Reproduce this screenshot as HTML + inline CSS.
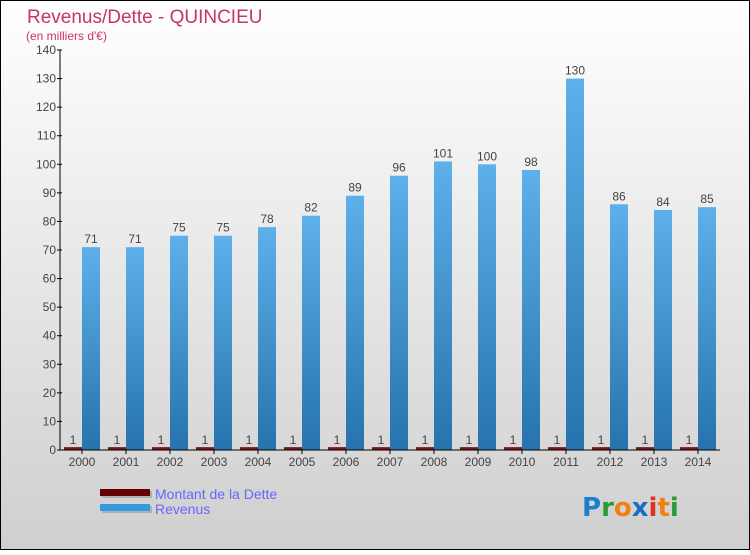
<!DOCTYPE html>
<html><head><meta charset="utf-8"><style>
html,body{margin:0;padding:0}
body{width:750px;height:550px;overflow:hidden;font-family:"Liberation Sans",sans-serif}
</style></head><body>
<svg width="750" height="550" xmlns="http://www.w3.org/2000/svg">
<defs>
<linearGradient id="bg" x1="0" y1="0" x2="0" y2="1"><stop offset="0" stop-color="#ffffff"/><stop offset="1" stop-color="#cfcfcf"/></linearGradient>
<linearGradient id="rev" x1="0" y1="0" x2="0" y2="1"><stop offset="0" stop-color="#5eb0ea"/><stop offset="1" stop-color="#2673ad"/></linearGradient>
</defs>
<rect x="0.5" y="0.5" width="749" height="549" fill="url(#bg)" stroke="#000"/>
<text x="27" y="23" font-size="19" fill="#c8336a">Revenus/Dette - QUINCIEU</text>
<text x="26" y="40" font-size="12" fill="#c8336a">(en milliers d'€)</text>
<g id="plot"></g>
<g>
<rect x="102" y="491" width="50" height="7" fill="#999" opacity="0.6"/>
<rect x="100" y="489" width="50" height="7" fill="#660000"/>
<rect x="102" y="506" width="50" height="7" fill="#999" opacity="0.6"/>
<rect x="100" y="504" width="50" height="7" fill="#3399e0"/>
<text x="155" y="499" font-size="14" fill="#6666ff">Montant de la Dette</text>
<text x="155" y="514" font-size="14" fill="#6666ff">Revenus</text>
</g>
<g font-size="26" font-family="'DejaVu Sans',sans-serif" font-weight="bold">
<text x="582" y="516"><tspan fill="#1a7fd0">P</tspan><tspan fill="#2a9a3a">r</tspan><tspan fill="#f08010">o</tspan><tspan fill="#1a6fc0">x</tspan><tspan fill="#e03020">i</tspan><tspan fill="#f08010">t</tspan><tspan fill="#2a9a3a">i</tspan></text>
</g>
</svg>
<script>
const years=["2000","2001","2002","2003","2004","2005","2006","2007","2008","2009","2010","2011","2012","2013","2014"];
const revenus=[71,71,75,75,78,82,89,96,101,100,98,130,86,84,85];
const dette=[1,1,1,1,1,1,1,1,1,1,1,1,1,1,1];
const yTicks=[0,10,20,30,40,50,60,70,80,90,100,110,120,130,140];
const NS="http://www.w3.org/2000/svg";
const g=document.getElementById('plot');
const x0=60,x1=720,y0=450,yTop=50,yMax=140;
const yS=v=>y0-(v/yMax)*(y0-yTop);
const step=(x1-x0)/years.length;
const xC=i=>x0+step*(i+0.5);
function mk(t,a){const e=document.createElementNS(NS,t);for(const k in a)e.setAttribute(k,a[k]);g.appendChild(e);return e;}
yTicks.forEach(v=>{
 const y=yS(v);
 const l=mk('line',{x1:x0-3,x2:x0+2,y1:y,y2:y,stroke:'#000'});
 
 
 const t=mk('text',{x:x0-4,y:y+4,'text-anchor':'end','font-size':12,fill:'#444'});
 t.textContent=v;
 
 
});
years.forEach((yr,i)=>{
 const c=xC(i);
 const d=mk('rect',{x:c-18,y:yS(dette[i]),width:18,height:y0-yS(dette[i]),fill:'#7a1515'});
 
 
 const dl=mk('text',{x:c-9,y:yS(dette[i])-3,'text-anchor':'middle','font-size':12,fill:'#444'});
 dl.textContent=dette[i];
 
 
 const r=mk('rect',{x:c,y:yS(revenus[i]),width:18,height:y0-yS(revenus[i]),fill:'url(#rev)'});
 
 
 const rl=mk('text',{x:c+9,y:yS(revenus[i])-4,'text-anchor':'middle','font-size':12,fill:'#444'});
 rl.textContent=revenus[i];
 
 
 const tk=mk('line',{x1:c,x2:c,y1:y0,y2:y0+4,stroke:'#000'});
 
 
 const xl=mk('text',{x:c,y:y0+16,'text-anchor':'middle','font-size':12,fill:'#444'});
 xl.textContent=yr;
 
 
});
const ya=mk('line',{x1:x0,x2:x0,y1:yTop,y2:y0,stroke:'#000'});


const xa=mk('line',{x1:x0,x2:x1,y1:y0,y2:y0,stroke:'#000'});


</script>
</body></html>
